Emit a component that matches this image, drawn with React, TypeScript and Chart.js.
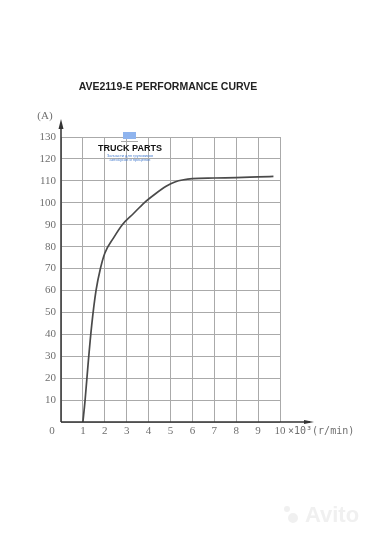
import React, { useEffect, useRef } from "react";
import { Chart, registerables } from "chart.js";

Chart.register(...registerables);

const TITLE = "AVE2119-E PERFORMANCE CURVE";
const Y_UNIT = "(A)";
const X_UNIT = "×10³(r/min)";
const speedK = [1, 1.1, 1.25, 1.4, 1.6, 1.8, 2, 2.4, 2.8, 3.3, 3.8, 4.3, 4.8, 5.2, 5.6, 6, 7, 8, 9, 9.7];
const currentA = [0, 10, 28, 44, 60, 70, 77, 84, 90, 95, 100, 104, 107.5, 109.5, 110.5, 111, 111.3, 111.5, 111.8, 112];

const decor = {
  id: "decor",
  afterDraw(chart: any) {
    const ctx = chart.ctx;
    const a = chart.chartArea;
    ctx.save();
    // axes
    ctx.strokeStyle = "#333";
    ctx.fillStyle = "#333";
    ctx.lineWidth = 1.5;
    ctx.beginPath();
    ctx.moveTo(a.left, a.bottom);
    ctx.lineTo(a.left, a.top - 14);
    ctx.moveTo(a.left, a.bottom);
    ctx.lineTo(a.right + 30, a.bottom);
    ctx.stroke();
    ctx.beginPath();
    ctx.moveTo(a.left, a.top - 18);
    ctx.lineTo(a.left - 2.5, a.top - 8);
    ctx.lineTo(a.left + 2.5, a.top - 8);
    ctx.closePath();
    ctx.fill();
    ctx.beginPath();
    ctx.moveTo(a.right + 34, a.bottom);
    ctx.lineTo(a.right + 24, a.bottom - 2);
    ctx.lineTo(a.right + 24, a.bottom + 2);
    ctx.closePath();
    ctx.fill();
    // labels
    ctx.fillStyle = "#6f6f6f";
    ctx.font = "11px 'Liberation Serif'";
    ctx.textBaseline = "middle";
    ctx.textAlign = "center";
    ctx.fillText("0", a.left - 9, a.bottom + 9);
    ctx.fillText(Y_UNIT, a.left - 16, a.top - 21);
    ctx.textAlign = "left";
    ctx.font = "10px 'DejaVu Sans Mono'";
    ctx.fillText(X_UNIT, a.right + 8, a.bottom + 9);
    // title
    ctx.fillStyle = "#222";
    ctx.font = "bold 10.5px 'Liberation Sans'";
    ctx.textAlign = "center";
    ctx.fillText(TITLE, 168, 87);
    // watermark
    ctx.fillStyle = "#111";
    ctx.font = "bold 9px 'Liberation Sans'";
    ctx.fillText("TRUCK PARTS", 130, 149);
    ctx.fillStyle = "#4a7fd0";
    ctx.font = "4px 'Liberation Sans'";
    ctx.fillText("Запчасти для грузовиков", 130, 156);
    ctx.fillText("автобусов и прицепов", 130, 160);
    ctx.fillStyle = "#8fb4ee";
    ctx.fillRect(123, 132, 13, 7);
    ctx.fillStyle = "#aaa";
    ctx.fillRect(121, 141, 17, 1);
    ctx.fillStyle = "rgba(238,238,238,0.9)";
    ctx.font = "bold 22px 'Liberation Sans'";
    ctx.fillText("Avito", 332, 516);
    ctx.beginPath();
    ctx.arc(293, 518, 5, 0, Math.PI * 2);
    ctx.arc(287, 509, 3, 0, Math.PI * 2);
    ctx.fill();
    ctx.restore();
  },
};

export default function App() {
  const ref = useRef<HTMLCanvasElement>(null);
  useEffect(() => {
    const chart = new Chart(ref.current!, {
      type: "line",
      data: {
        datasets: [
          {
            data: speedK.map((x, i) => ({ x, y: currentA[i] })),
            borderColor: "#4a4a4a",
            borderWidth: 1.7,
            pointRadius: 0,
            cubicInterpolationMode: "monotone",
            fill: false,
          },
        ],
      },
      options: {
        animation: false,
        responsive: false,
        maintainAspectRatio: false,
        layout: { padding: { top: 137, right: 102, left: 0, bottom: 0 } },
        plugins: { legend: { display: false }, tooltip: { enabled: false } },
        scales: {
          x: {
            type: "linear",
            min: 0,
            max: 10,
            afterFit: (s: any) => { s.height = 118; },
            ticks: {
              stepSize: 1,
              color: "#6f6f6f",
              font: { family: "'Liberation Serif'", size: 11 },
              padding: 3,
              callback: (v: any) => (v === 0 ? "" : String(v)),
            },
            grid: { color: "#aaa", lineWidth: 1, drawTicks: false },
            border: { display: false },
          },
          y: {
            min: 0,
            max: 130,
            afterFit: (s: any) => { s.width = 61; },
            ticks: {
              stepSize: 10,
              color: "#6f6f6f",
              font: { family: "'Liberation Serif'", size: 11 },
              padding: 5,
              callback: (v: any) => (v === 0 ? "" : String(v)),
            },
            grid: { color: "#aaa", lineWidth: 1, drawTicks: false },
            border: { display: false },
          },
        },
      },
      plugins: [decor],
    });
    return () => chart.destroy();
  }, []);
  return (
    <div style={{ position: "fixed", left: 0, top: 0, width: 382, height: 540, background: "#fff" }}>
      <canvas ref={ref} width={382} height={540} style={{ width: 382, height: 540 }} />
    </div>
  );
}
